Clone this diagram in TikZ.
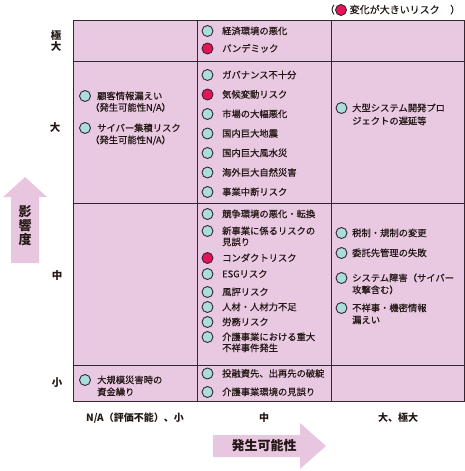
\documentclass[tikz,border=0pt]{standalone}
\usepackage{fontspec}
\setmainfont{Noto Sans CJK JP}
\newfontfamily\jpmed{Noto Sans CJK JP}[FakeBold=0.5]
\definecolor{cellpink}{RGB}{233,200,225}
\definecolor{arrowpink}{RGB}{233,198,224}
\definecolor{dotteal}{RGB}{172,221,221}
\definecolor{dotred}{RGB}{232,18,90}
\definecolor{gridline}{RGB}{50,40,50}
\definecolor{inkc}{RGB}{35,24,21}
\begin{document}
\begin{tikzpicture}[x=1pt,y=-1pt,
  dot/.style={circle, draw=gridline, line width=0.9pt, fill=dotteal, minimum size=11pt, inner sep=0pt},
  hotdot/.style={dot, fill=dotred},
  lbl/.style={anchor=base west, inner sep=0pt, yshift=-3.4pt, font=\jpmed\fontsize{9.3}{11}\selectfont, text=inkc},
  leglbl/.style={lbl, font=\jpmed\fontsize{10}{11}\selectfont},
  axislbl/.style={font=\bfseries\fontsize{10}{11}\selectfont, text=inkc, inner sep=0pt, align=center},
  rowlbl/.style={axislbl, font=\bfseries\fontsize{10.5}{11.5}\selectfont},
  bigaxis/.style={font=\bfseries\fontsize{13}{14}\selectfont, text=inkc, inner sep=0pt, align=center},
  gridrule/.style={draw=gridline, line width=1pt}]
\useasboundingbox (0,0) rectangle (465,471);

% grid
\fill[cellpink] (73,20) rectangle (464.5,401);
\foreach \yy in {20,61,203,365,401} \draw[gridrule] (73,\yy) -- (464.5,\yy);
\foreach \xx in {73,197,331,464.5} \draw[gridrule] (\xx,20) -- (\xx,401);

% legend
\node[hotdot] (legdot) at (341,10) {};
\node[leglbl, anchor=base east] (legl) at (335,10) {（};
\node[leglbl] (legt) at (349.5,10) {変化が大きいリスク};
\node[leglbl] (legr) at (450,10) {）};

% row labels
\node[rowlbl] (rxl) at (56,41) {極\\大};
\node[rowlbl] (rl) at (55,127) {大};
\node[rowlbl] (rm) at (57,276) {中};
\node[rowlbl] (rs) at (57,383) {小};

% column labels
\node[axislbl] (cna) at (135,418) {N/A（評価不能）、小};
\node[axislbl] (cm) at (264,418) {中};
\node[axislbl] (cl) at (398,418) {大、極大};

% axis arrows
\fill[arrowpink] (11,263) -- (11,197) -- (3,197) -- (25,177) -- (47,197) -- (39,197) -- (39,263) -- cycle;
\node[bigaxis] (impact) at (25,226) {影\\響\\度};
\fill[arrowpink] (213,435) -- (300,435) -- (300,423) -- (326,446) -- (300,469) -- (300,457) -- (213,457) -- cycle;
\node[bigaxis] (likely) at (264,446) {発生可能性};

% column 1
\node[dot] (a1) at (85,96) {};
\node[lbl] (a1t) at (97,96) {顧客情報漏えい};
\node[lbl] (a1u) at (90,107.5) {（発生可能性N/A）};
\node[dot] (a2) at (85,128) {};
\node[lbl] (a2t) at (97,128) {サイバー集積リスク};
\node[lbl] (a2u) at (90,140) {（発生可能性N/A）};
\node[dot] (a3) at (85,380) {};
\node[lbl] (a3t) at (97,380) {大規模災害時の};
\node[lbl] (a3u) at (97,392) {資金繰り};

% column 2
\node[dot] (b1) at (207.5,31) {};
\node[lbl] (b1t) at (222,31) {経済環境の悪化};
\node[hotdot] (b2) at (207.5,48.5) {};
\node[lbl] (b2t) at (222,48.5) {パンデミック};

\node[dot] (b3) at (207.5,75) {};
\node[lbl] (b3t) at (222,75) {ガバナンス不十分};
\node[hotdot] (b4) at (207.5,94.5) {};
\node[lbl] (b4t) at (222,94.5) {気候変動リスク};
\node[dot] (b5) at (207.5,114) {};
\node[lbl] (b5t) at (222,114) {市場の大幅悪化};
\node[dot] (b6) at (207.5,133.5) {};
\node[lbl] (b6t) at (222,133.5) {国内巨大地震};
\node[dot] (b7) at (207.5,153) {};
\node[lbl] (b7t) at (222,153) {国内巨大風水災};
\node[dot] (b8) at (207.5,172.5) {};
\node[lbl] (b8t) at (222,172.5) {海外巨大自然災害};
\node[dot] (b9) at (207.5,192) {};
\node[lbl] (b9t) at (222,192) {事業中断リスク};

\node[dot] (c1) at (207.5,214) {};
\node[lbl] (c1t) at (222,214) {競争環境の悪化・転換};
\node[dot] (c2) at (207.5,231) {};
\node[lbl] (c2t) at (222,231) {新事業に係るリスクの};
\node[lbl] (c2u) at (222,242) {見誤り};
\node[hotdot] (c3) at (207.5,258) {};
\node[lbl] (c3t) at (222,258) {コンダクトリスク};
\node[dot] (c4) at (207.5,274) {};
\node[lbl] (c4t) at (222,274) {ESGリスク};
\node[dot] (c5) at (207.5,292) {};
\node[lbl] (c5t) at (222,292) {風評リスク};
\node[dot] (c6) at (207.5,307) {};
\node[lbl] (c6t) at (222,307) {人材・人材力不足};
\node[dot] (c7) at (207.5,322) {};
\node[lbl] (c7t) at (222,322) {労務リスク};
\node[dot] (c8) at (207.5,337) {};
\node[lbl] (c8t) at (222,337) {介護事業における重大};
\node[lbl] (c8u) at (222,348) {不祥事件発生};

\node[dot] (d1) at (207.5,373.5) {};
\node[lbl] (d1t) at (222,373.5) {投融資先、出再先の破綻};
\node[dot] (d2) at (207.5,392) {};
\node[lbl] (d2t) at (222,392) {介護事業環境の見誤り};

% column 3
\node[dot] (e1) at (341.5,108) {};
\node[lbl] (e1t) at (352,108) {大型システム開発プロ};
\node[lbl] (e1u) at (352,121) {ジェクトの遅延等};

\node[dot] (f1) at (341.5,233) {};
\node[lbl] (f1t) at (352,233) {税制・規制の変更};
\node[dot] (f2) at (341.5,253) {};
\node[lbl] (f2t) at (352,253) {委託先管理の失敗};
\node[dot] (f3) at (341.5,278) {};
\node[lbl] (f3t) at (352,278) {システム障害（サイバー};
\node[lbl] (f3u) at (352,290) {攻撃含む）};
\node[dot] (f4) at (341.5,308) {};
\node[lbl] (f4t) at (352,308) {不祥事・機密情報};
\node[lbl] (f4u) at (352,320) {漏えい};
\end{tikzpicture}
\end{document}
